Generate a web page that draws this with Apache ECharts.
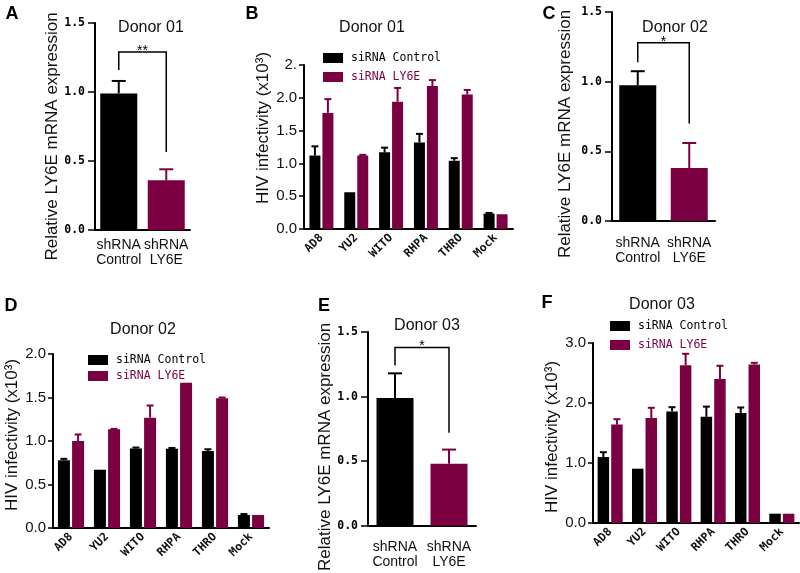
<!DOCTYPE html>
<html><head><meta charset="utf-8">
<script src="https://cdn.jsdelivr.net/npm/echarts@6/dist/echarts.min.js"></script>
<style>html,body{margin:0;padding:0;background:#fff}#c{width:800px;height:573px}</style>
</head><body><div id="c"></div>
<script>
// ---------- data ----------
const strainCategories = ['AD8', 'YU2', 'WITO', 'RHPA', 'THRO', 'Mock'];
const shCategories = ['shRNA\nControl', 'shRNA\nLY6E'];
const seriesNames = ['siRNA Control', 'siRNA LY6E'];
const panelTitles = ['Donor 01', 'Donor 01', 'Donor 02', 'Donor 02', 'Donor 03', 'Donor 03'];
const panelLetters = ['A', 'B', 'C', 'D', 'E', 'F'];
const yNameMRNA = 'Relative LY6E mRNA expression';
const yNameHIV = 'HIV infectivity (x10³)';

// Panel A – Donor 01 mRNA
const aMean = [0.99, 0.36];
const aErr = [0.09, 0.08];
const aBracket = [1.16, 1.29, 0.565];   // left leg bottom, top, right leg bottom
const aStars = '**';
// Panel B – Donor 01 infectivity
const bControl = [1.12, 0.56, 1.17, 1.32, 1.04, 0.235];
const bControlErr = [0.14, 0, 0.07, 0.13, 0.04, 0.01];
const bLY6E = [1.77, 1.12, 1.94, 2.18, 2.05, 0.225];
const bLY6EErr = [0.21, 0.01, 0.21, 0.09, 0.07, 0];
const bTickLabels = ['0.0', '0.5', '1.0', '1.5', '2.0', '2.'];
// Panel C – Donor 02 mRNA
const cMean = [0.975, 0.38];
const cErr = [0.10, 0.18];
const cBracket = [1.14, 1.28, 0.70];
const cStars = '*';
// Panel D – Donor 02 infectivity
const dControl = [0.78, 0.67, 0.915, 0.91, 0.885, 0.15];
const dControlErr = [0.015, 0, 0.01, 0.01, 0.02, 0.01];
const dLY6E = [1.0, 1.134, 1.268, 1.67, 1.49, 0.15];
const dLY6EErr = [0.075, 0.005, 0.14, 0, 0.01, 0];
// Panel E – Donor 03 mRNA
const eMean = [0.99, 0.48];
const eErr = [0.19, 0.11];
const eBracket = [1.24, 1.38, 0.72];
const eStars = '*';
// Panel F – Donor 03 infectivity
const fControl = [1.10, 0.905, 1.86, 1.77, 1.835, 0.155];
const fControlErr = [0.08, 0, 0.07, 0.17, 0.09, 0];
const fLY6E = [1.64, 1.75, 2.63, 2.40, 2.64, 0.155];
const fLY6EErr = [0.09, 0.17, 0.19, 0.22, 0.03, 0];

// ---------- style ----------
const BLACK = '#000000';
const MAROON = '#7b0042';
const shColors = [BLACK, MAROON];
const SANS = "'Liberation Sans', Arial, Helvetica, sans-serif";
const MONO = "'DejaVu Sans Mono', monospace";

const grids = [
  {left: 95, top: 23, width: 95, height: 207},    // A
  {left: 304, top: 65, width: 209, height: 164},  // B
  {left: 612, top: 12, width: 103, height: 209},  // C
  {left: 53, top: 354, width: 216, height: 174},  // D
  {left: 368, top: 332, width: 108, height: 196}, // E
  {left: 593, top: 343, width: 206, height: 180}  // F
];

const titlePos = [[146, 25], [367, 25], [670, 25], [138, 327], [422, 323], [657, 302]];
const letterPos = [[7, 10], [247, 10], [544, 10], [6, 302], [319, 302], [542, 299]];

const axisLineStyle = {color: '#000', width: 2};

function shXAxis(gi, margin) {
  return {
    type: 'category', gridIndex: gi, data: shCategories,
    axisLine: {lineStyle: axisLineStyle},
    axisTick: {alignWithLabel: true, length: 6, lineStyle: {color: '#000', width: 1.5}},
    axisLabel: {fontFamily: SANS, fontSize: 14, lineHeight: 15, color: '#111', margin: margin, interval: 0}
  };
}
function strainXAxis(gi) {
  return {
    type: 'category', gridIndex: gi, data: strainCategories,
    axisLine: {lineStyle: axisLineStyle},
    axisTick: {alignWithLabel: true, length: 5, lineStyle: {color: '#000', width: 1.5}},
    axisLabel: {fontFamily: MONO, fontWeight: 'bold', fontSize: 11.5, color: '#111', rotate: 45, margin: 7, interval: 0}
  };
}
function shYAxis(gi, nameGap, pad) {
  return {
    type: 'value', gridIndex: gi, min: 0, max: 1.5, interval: 0.5,
    name: yNameMRNA, nameLocation: 'middle', nameRotate: 90, nameGap: nameGap,
    nameTextStyle: {fontFamily: SANS, fontSize: 17, color: '#111', padding: pad},
    axisLine: {show: true, lineStyle: axisLineStyle},
    axisTick: {show: true, length: 7, lineStyle: {color: '#000', width: 1.5}},
    splitLine: {show: false},
    axisLabel: {fontFamily: MONO, fontWeight: 'bold', fontSize: 11.5, color: '#000', margin: 10,
      formatter: v => v.toFixed(1)}
  };
}
function hivYAxis(gi, max, interval, nameGap, pad, labels) {
  return {
    type: 'value', gridIndex: gi, min: 0, max: max, interval: interval,
    name: yNameHIV, nameLocation: 'middle', nameRotate: 90, nameGap: nameGap,
    nameTextStyle: {fontFamily: SANS, fontSize: 17, color: '#111', padding: pad},
    axisLine: {show: true, lineStyle: axisLineStyle},
    axisTick: {show: true, length: 5, lineStyle: {color: '#000', width: 1.5}},
    splitLine: {show: false},
    axisLabel: {fontFamily: SANS, fontSize: 15, color: '#111', margin: 7,
      formatter: v => labels ? labels[Math.round(v / interval)] : v.toFixed(1)}
  };
}

function errSeries(gi, means, errs, offset, colorFor, cap) {
  return {
    type: 'custom', xAxisIndex: gi, yAxisIndex: gi, z: 5, silent: true,
    data: means.map((m, i) => [i, m, errs[i]]),
    renderItem: function (params, api) {
      const i = api.value(0), m = api.value(1), e = api.value(2);
      if (!(e > 0)) return null;
      const p0 = api.coord([i, m]), p1 = api.coord([i, m + e]);
      const x = p0[0] + offset;
      const col = colorFor(i);
      return {type: 'group', children: [
        {type: 'line', shape: {x1: x, y1: p0[1], x2: x, y2: p1[1]}, style: {stroke: col, lineWidth: 2}},
        {type: 'line', shape: {x1: x - cap / 2, y1: p1[1], x2: x + cap / 2, y2: p1[1]}, style: {stroke: col, lineWidth: 2}}
      ]};
    }
  };
}
function bracketSeries(gi, br, stars) {
  return {
    type: 'custom', xAxisIndex: gi, yAxisIndex: gi, z: 6, silent: true,
    data: [[0, br[0], 1, br[1], br[2]]],
    renderItem: function (params, api) {
      const l = api.coord([0, api.value(1)]);
      const lt = api.coord([0, api.value(3)]);
      const rt = api.coord([1, api.value(3)]);
      const r = api.coord([1, api.value(4)]);
      return {type: 'group', children: [
        {type: 'polyline', shape: {points: [l, lt, rt, r]}, style: {stroke: '#000', lineWidth: 1.5, fill: null}},
        {type: 'text', style: {text: stars, x: (lt[0] + rt[0]) / 2, y: lt[1] - 1, align: 'center', verticalAlign: 'middle',
          fontSize: 14, fontFamily: SANS, fill: '#000'}}
      ]};
    }
  };
}
function shSeries(gi, means, errs, br, stars) {
  return [
    {type: 'bar', name: 'shRNA', xAxisIndex: gi, yAxisIndex: gi, barWidth: 37, silent: true,
      data: means.map((v, i) => ({value: v, itemStyle: {color: shColors[i]}}))},
    errSeries(gi, means, errs, 0, i => shColors[i], 14),
    bracketSeries(gi, br, stars)
  ];
}
function groupedSeries(gi, ctl, ctlErr, ly, lyErr, bw) {
  const gap = 0.18;
  const off = bw * (1 + gap) / 2;
  return [
    {type: 'bar', name: seriesNames[0], xAxisIndex: gi, yAxisIndex: gi, barWidth: bw, barGap: (gap * 100) + '%',
      itemStyle: {color: BLACK}, data: ctl, silent: true},
    {type: 'bar', name: seriesNames[1], xAxisIndex: gi, yAxisIndex: gi, barWidth: bw, barGap: (gap * 100) + '%',
      itemStyle: {color: MAROON}, data: ly, silent: true},
    errSeries(gi, ctl, ctlErr, -off, () => BLACK, 7),
    errSeries(gi, ly, lyErr, off, () => MAROON, 7)
  ];
}
function legendAt(left, top, itemGap) {
  return {
    left: left, top: top, orient: 'vertical', icon: 'rect', itemWidth: 20, itemHeight: 10, itemGap: itemGap,
    selectedMode: false,
    textStyle: {fontFamily: MONO, fontSize: 11.5, padding: [0, 0, 0, 3]},
    data: [
      {name: seriesNames[0], textStyle: {color: BLACK}},
      {name: seriesNames[1], textStyle: {color: MAROON}}
    ]
  };
}

const titles = [];
panelTitles.forEach((t, i) => titles.push({
  text: t, left: titlePos[i][0], top: titlePos[i][1] - 10, textAlign: 'center',
  textStyle: {fontFamily: SANS, fontSize: 16, fontWeight: 'normal', color: '#111'}
}));
panelLetters.forEach((t, i) => titles.push({
  text: t, left: letterPos[i][0], top: letterPos[i][1] - 10, textAlign: 'center',
  textStyle: {fontFamily: SANS, fontSize: 18, fontWeight: 'bold', color: '#000'}
}));

const option = {
  animation: false,
  backgroundColor: '#fff',
  title: titles,
  legend: [legendAt(318, 47, 7), legendAt(83, 349, 4), legendAt(605, 315, 7)],
  grid: grids.map(g => Object.assign({containLabel: false}, g)),
  xAxis: [shXAxis(0, 8), strainXAxis(1), shXAxis(2, 15), strainXAxis(3), shXAxis(4, 14), strainXAxis(5)],
  yAxis: [
    shYAxis(0, 34, [0, 20, 0, 0]),
    hivYAxis(1, 2.5, 0.5, 30, [0, 0, 0, 38], bTickLabels),
    shYAxis(2, 38, [0, 35, 0, 0]),
    hivYAxis(3, 2.0, 0.5, 32, [0, 0, 0, 12], null),
    shYAxis(4, 34, [0, 36, 0, 0]),
    hivYAxis(5, 3.0, 1.0, 32, [0, 8, 0, 0], null)
  ],
  series: [].concat(
    shSeries(0, aMean, aErr, aBracket, aStars),
    groupedSeries(1, bControl, bControlErr, bLY6E, bLY6EErr, 11),
    shSeries(2, cMean, cErr, cBracket, cStars),
    groupedSeries(3, dControl, dControlErr, dLY6E, dLY6EErr, 12),
    shSeries(4, eMean, eErr, eBracket, eStars),
    groupedSeries(5, fControl, fControlErr, fLY6E, fLY6EErr, 11.5)
  )
};
const chart = echarts.init(document.getElementById('c'), null, {renderer: 'canvas'});
chart.setOption(option);
</script>
</body></html>
